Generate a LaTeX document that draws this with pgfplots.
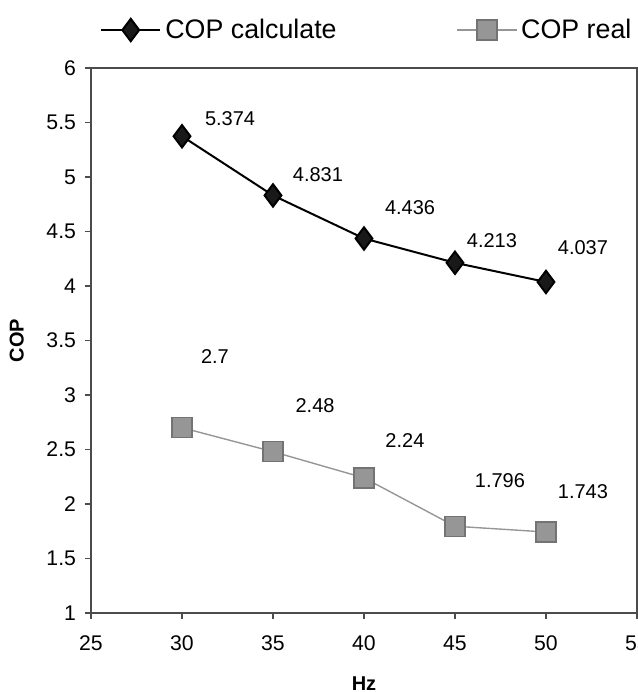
\documentclass[border=0pt]{standalone}
\usepackage{pgfplots}
\pgfplotsset{compat=1.18}
\usepackage{fontspec}
\setmainfont{Liberation Sans}
\definecolor{realgray}{RGB}{150,150,150}
\begin{document}
\begin{tikzpicture}
\begin{axis}[
  at={(0,0)}, anchor=south west,
  scale only axis, width=273pt, height=272.5pt,
  xmin=25, xmax=55, ymin=1, ymax=6,
  xtick={25,30,...,55}, ytick={1,1.5,...,6},
  /pgf/number format/assume math mode=true,
  yticklabel style={/pgf/number format/fixed, xshift=-1pt},
  xticklabel style={yshift=-5pt},
  tick label style={font=\fontsize{10.6}{12}\selectfont},
  tick pos=left, tick align=outside, major tick length=3pt,
  axis line style={black!70, line width=0.8pt},
  every tick/.style={black!70, line width=0.6pt},
  xlabel={\textbf{Hz}}, ylabel={\textbf{COP}},
  label style={font=\fontsize{10}{12}\selectfont},
  xlabel style={yshift=-6pt},
  ylabel style={yshift=4.5pt},
  legend columns=2,
  legend style={at={(rel axis cs:0.507,1.0697)}, anchor=center, draw=none, fill=none,
    font=\fontsize{13.4}{16}\selectfont,
    /tikz/every even column/.append style={column sep=58pt}},
  legend image code/.code={\draw[mark repeat=2,mark phase=2,#1] plot coordinates {(0cm,0cm)(0.52cm,0cm)(1.04cm,0cm)};},
]
\addplot[black, line width=1pt, mark=diamond*, mark size=5.6pt, mark options={fill=black!90, draw=black}]
  coordinates {(30,5.374) (35,4.831) (40,4.436) (45,4.213) (50,4.037)};
\addlegendentry{COP calculate}
\addplot[realgray, line width=0.7pt, mark=square*, mark size=5pt, mark options={fill=realgray, draw=black!55}]
  coordinates {(30,2.7) (35,2.48) (40,2.24) (45,1.796) (50,1.743)};
\addlegendentry{COP real}
\begin{scope}[every node/.style={font=\fontsize{10}{12}\selectfont}]
\node at (axis cs:32.64,5.54) {5.374};
\node at (axis cs:37.47,5.02) {4.831};
\node at (axis cs:42.53,4.716) {4.436};
\node at (axis cs:47.03,4.413) {4.213};
\node at (axis cs:52.03,4.349) {4.037};
\node at (axis cs:31.81,3.349) {2.7};
\node at (axis cs:37.31,2.899) {2.48};
\node at (axis cs:42.25,2.587) {2.24};
\node at (axis cs:47.47,2.211) {1.796};
\node at (axis cs:52.03,2.110) {1.743};
\end{scope}
\end{axis}
\pgfresetboundingbox
\path (-45.5pt,-39.5pt) rectangle (273.5pt,306.5pt);
\end{tikzpicture}
\end{document}
